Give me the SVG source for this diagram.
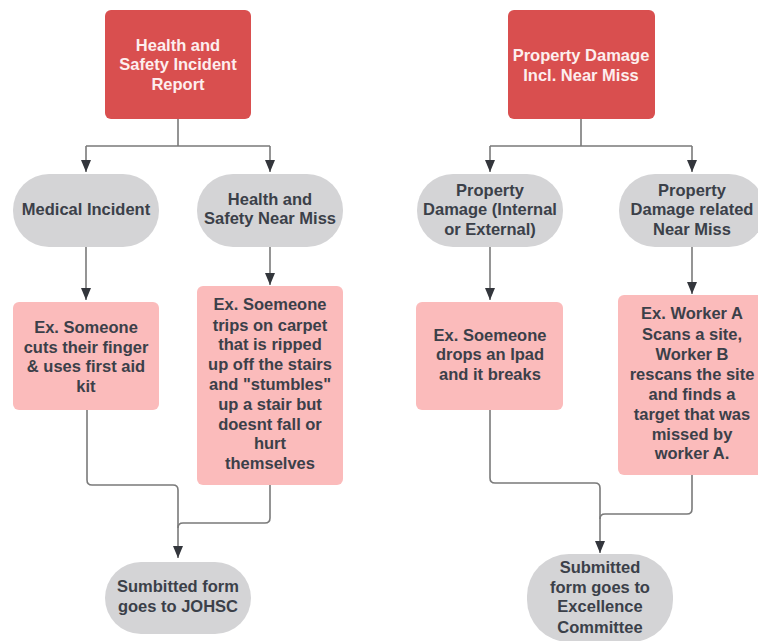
<svg xmlns="http://www.w3.org/2000/svg" width="758" height="641" viewBox="0 0 758 641">
<style>
text{font-family:"Liberation Sans",Arial,sans-serif;font-weight:bold;font-size:16.5px;text-anchor:middle;fill:#3b4049}
.red{fill:#d94f4f}
.redt{fill:#fdeeee}
.gray{fill:#d4d4d6}
.pink{fill:#fbbbbb}
.c{fill:none;stroke:#7a7a7a;stroke-width:1.6}
</style>
<defs>
<marker id="ah" viewBox="0 0 12 10" refX="12" refY="5" markerWidth="12" markerHeight="10" markerUnits="userSpaceOnUse" orient="auto">
<path d="M0,0 L12,5 L0,10 Z" fill="#33363c"/>
</marker>
</defs>
<rect width="758" height="641" fill="#ffffff"/>
<g id="connectors">
<path class="c" d="M178,119 V146 M86,146 H270 M86,146 V172" marker-end="url(#ah)"/>
<path class="c" d="M270,146 V172" marker-end="url(#ah)"/>
<path class="c" d="M86,247 V300" marker-end="url(#ah)"/>
<path class="c" d="M270,247 V285" marker-end="url(#ah)"/>
<path class="c" d="M87,410 V480 Q87,485 92,485 H173 Q178,485 178,490 V558" marker-end="url(#ah)"/>
<path class="c" d="M270,485 V518 Q270,523 265,523 H183 Q178,523 178,528"/>
<path class="c" d="M581,119 V146 M490,146 H692 M490,146 V172" marker-end="url(#ah)"/>
<path class="c" d="M692,146 V172" marker-end="url(#ah)"/>
<path class="c" d="M490,247 V300" marker-end="url(#ah)"/>
<path class="c" d="M692,247 V294" marker-end="url(#ah)"/>
<path class="c" d="M490,410 V478 Q490,483 495,483 H595 Q600,483 600,488 V553" marker-end="url(#ah)"/>
<path class="c" d="M692,475 V509 Q692,514 687,514 H605 Q600,514 600,519"/>
</g>
<g id="hs-report">
<rect class="red" x="105" y="10" width="146" height="109" rx="6"/>
<text class="redt" x="178" y="51">Health and</text>
<text class="redt" x="178" y="70">Safety Incident</text>
<text class="redt" x="178" y="90">Report</text>
</g>
<g id="pd-report">
<rect class="red" x="508" y="10" width="147" height="109" rx="6"/>
<text class="redt" x="581" y="61">Property Damage</text>
<text class="redt" x="581" y="81">Incl. Near Miss</text>
</g>
<g id="medical">
<rect class="gray" x="13" y="174" width="146" height="73" rx="36"/>
<text x="86" y="215">Medical Incident</text>
</g>
<g id="hs-near-miss">
<rect class="gray" x="197" y="174" width="146" height="73" rx="36"/>
<text x="270" y="205">Health and</text>
<text x="270" y="224">Safety Near Miss</text>
</g>
<g id="pd-internal">
<rect class="gray" x="417" y="174" width="146" height="73" rx="36"/>
<text x="490" y="196">Property</text>
<text x="490" y="215">Damage (Internal</text>
<text x="490" y="235">or External)</text>
</g>
<g id="pd-near-miss">
<rect class="gray" x="619" y="174" width="146" height="73" rx="36"/>
<text x="692" y="196">Property</text>
<text x="692" y="215">Damage related</text>
<text x="692" y="235">Near Miss</text>
</g>
<g id="ex-medical">
<rect class="pink" x="13" y="302" width="146" height="108" rx="6"/>
<text x="86" y="333">Ex. Someone</text>
<text x="86" y="353">cuts their finger</text>
<text x="86" y="372">&amp; uses first aid</text>
<text x="86" y="392">kit</text>
</g>
<g id="ex-hs">
<rect class="pink" x="197" y="286" width="146" height="199" rx="6"/>
<text x="270" y="310">Ex. Soemeone</text>
<text x="270" y="331">trips on carpet</text>
<text x="270" y="350">that is ripped</text>
<text x="270" y="370">up off the stairs</text>
<text x="270" y="390">and "stumbles"</text>
<text x="270" y="410">up a stair but</text>
<text x="270" y="430">doesnt fall or</text>
<text x="270" y="449">hurt</text>
<text x="270" y="469">themselves</text>
</g>
<g id="ex-pd">
<rect class="pink" x="416" y="302" width="147" height="108" rx="6"/>
<text x="490" y="341">Ex. Soemeone</text>
<text x="490" y="360">drops an Ipad</text>
<text x="490" y="380">and it breaks</text>
</g>
<g id="ex-pd-near">
<rect class="pink" x="618" y="295" width="147" height="180" rx="6"/>
<text x="692" y="319">Ex. Worker A</text>
<text x="692" y="340">Scans a site,</text>
<text x="692" y="360">Worker B</text>
<text x="692" y="380">rescans the site</text>
<text x="692" y="400">and finds a</text>
<text x="692" y="420">target that was</text>
<text x="692" y="440">missed by</text>
<text x="692" y="459">worker A.</text>
</g>
<g id="johsc">
<rect class="gray" x="105" y="562" width="146" height="72" rx="36"/>
<text x="178" y="592">Sumbitted form</text>
<text x="178" y="612">goes to JOHSC</text>
</g>
<g id="excellence">
<rect class="gray" x="527" y="554" width="146" height="88" rx="42"/>
<text x="600" y="573">Submitted</text>
<text x="600" y="593">form goes to</text>
<text x="600" y="612">Excellence</text>
<text x="600" y="633">Committee</text>
</g>
</svg>
